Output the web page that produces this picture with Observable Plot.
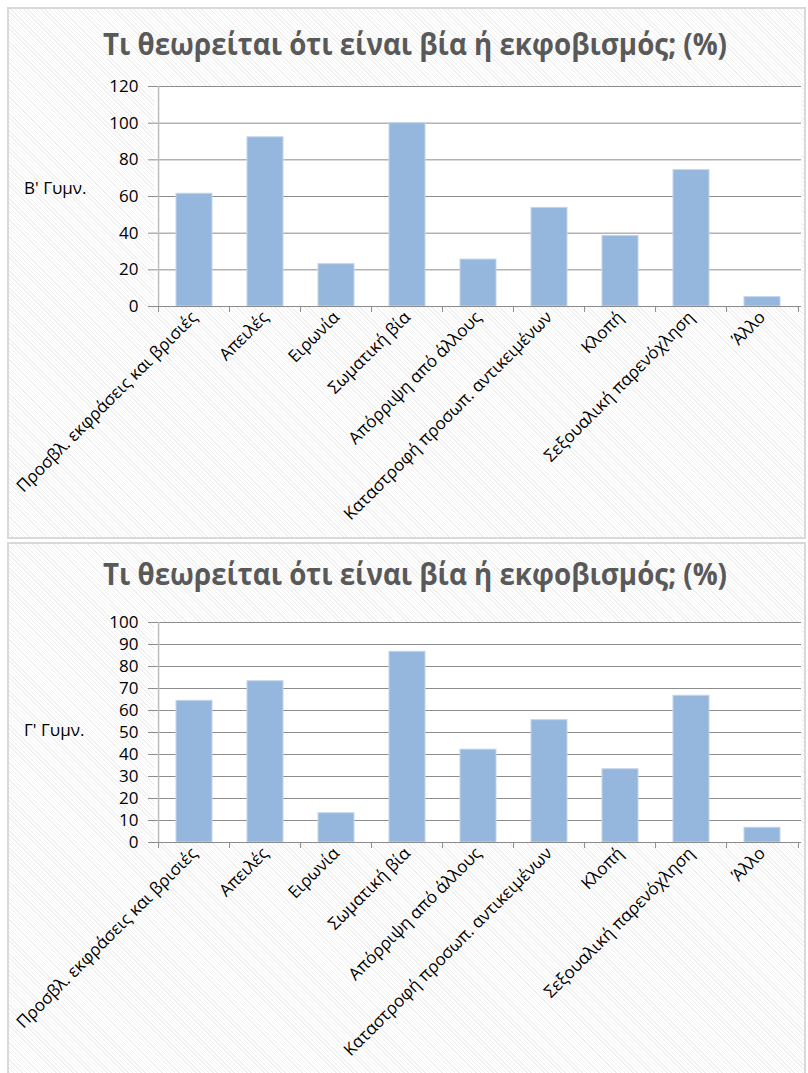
<!DOCTYPE html>
<html><head><meta charset="utf-8">
<script src="https://cdn.jsdelivr.net/npm/d3@7"></script>
<script src="https://cdn.jsdelivr.net/npm/@observablehq/plot@0.6"></script>
<style>
html,body{margin:0;padding:0;background:#fff;width:808px;height:1073px;overflow:hidden;}
.panel{position:absolute;left:7px;width:799px;box-sizing:border-box;border:2px solid #d9d9d9;
background:repeating-linear-gradient(45deg,#ffffff 0px,#ffffff 2px,#f0f0f0 2px,#f0f0f0 3px);}
.abs{position:absolute;left:0;}
</style></head><body>
<script>
const categories = ["Προσβλ. εκφράσεις και βρισιές","Απειλές","Ειρωνία","Σωματική βία","Απόρριψη από άλλους","Καταστροφή προσωπ. αντικειμένων","Κλοπή","Σεξουαλική παρενόχληση","Άλλο"];
const valuesB = [61.5, 92.3, 23.1, 100, 25.6, 53.8, 38.5, 74.4, 5.1];
const valuesG = [64.4, 73.3, 13.3, 86.7, 42.2, 55.6, 33.3, 66.7, 6.7];
const ticksB = [0, 20, 40, 60, 80, 100, 120];
const ticksG = [0, 10, 20, 30, 40, 50, 60, 70, 80, 90, 100];
const titleText = "Τι θεωρείται ότι είναι βία ή εκφοβισμός; (%)";
const seriesB = "Β' Γυμν.";
const seriesG = "Γ' Γυμν.";

const FONT = "'Open Sans', 'Noto Sans', sans-serif";
const SVGNS = "http://www.w3.org/2000/svg";

function panel(top, height) {
  const d = document.createElement("div");
  d.className = "panel";
  d.style.top = top + "px";
  d.style.height = height + "px";
  document.body.appendChild(d);
}

function overlay(top, title, series, seriesY) {
  const s = document.createElementNS(SVGNS, "svg");
  s.setAttribute("width", 808); s.setAttribute("height", 240);
  s.setAttribute("class", "abs");
  s.style.top = top + "px";
  const t = document.createElementNS(SVGNS, "text");
  t.setAttribute("x", 103); t.setAttribute("y", 55);
  t.setAttribute("font-family", FONT); t.setAttribute("font-weight", "700");
  t.setAttribute("font-size", 30); t.setAttribute("fill", "#595959");
  t.setAttribute("textLength", 624); t.setAttribute("lengthAdjust", "spacingAndGlyphs");
  t.textContent = title;
  s.appendChild(t);
  const l = document.createElementNS(SVGNS, "text");
  l.setAttribute("x", 24); l.setAttribute("y", seriesY);
  l.setAttribute("font-family", FONT); l.setAttribute("font-size", 17); l.setAttribute("fill", "#000");
  l.setAttribute("dominant-baseline", "central");
  l.textContent = series;
  s.appendChild(l);
  document.body.appendChild(s);
}

function chart(values, ticks, top) {
  const data = categories.map((c, i) => ({category: c, value: values[i]}));
  const W = 808, mL = 154, mR = 7, mT = 16, mB = 229, H = 465;
  const step = (W - mL - mR) / categories.length;
  const ymax = ticks[ticks.length - 1];
  const grid = "#8c8c8c";
  const p = Plot.plot({
    width: W, height: H, marginLeft: mL, marginRight: mR, marginTop: mT, marginBottom: mB,
    style: {background: "transparent", fontFamily: FONT, fontSize: "17px", color: "#000", overflow: "visible"},
    x: {domain: categories, paddingInner: 0.5, paddingOuter: 0.25, axis: null},
    y: {domain: [0, ymax], axis: null},
    marks: [
      Plot.frame({fill: "#fff", stroke: "none"}),
      Plot.gridY(ticks, {stroke: grid, strokeOpacity: 1}),
      Plot.barY(data, {x: "category", y: "value", fill: "#95b6dd", stroke: "#c3d5ea", strokeWidth: 1}),
      Plot.ruleY([0], {stroke: grid}),
      Plot.ruleX([categories[0]], {dx: -step / 2, y1: 0, y2: ymax, stroke: "#bdbdbd", strokeWidth: 1.5}),
      Plot.ruleX(categories, {dx: -step / 2, y1: 0, y2: 0, insetBottom: -6, stroke: grid}),
      Plot.ruleX([categories[categories.length - 1]], {dx: step / 2, y1: 0, y2: 0, insetBottom: -6, stroke: grid}),
      Plot.axisY(ticks, {anchor: "left", tickSize: 6, tickPadding: 10, stroke: grid, fontSize: 17, label: null, fill: "#000"}),
      Plot.axisX({anchor: "bottom", tickSize: 0, tickPadding: 8, tickRotate: -45, fontSize: 17, label: null, fill: "#000"})
    ]
  });
  p.setAttribute("class", "abs");
  p.style.top = top + "px";
  document.body.appendChild(p);
}

panel(7, 532);
panel(542, 540);
overlay(0, titleText, seriesB, 187);
overlay(530, titleText, seriesG, 199);
chart(valuesB, ticksB, 70);
chart(valuesG, ticksG, 606);
</script>
</body></html>
